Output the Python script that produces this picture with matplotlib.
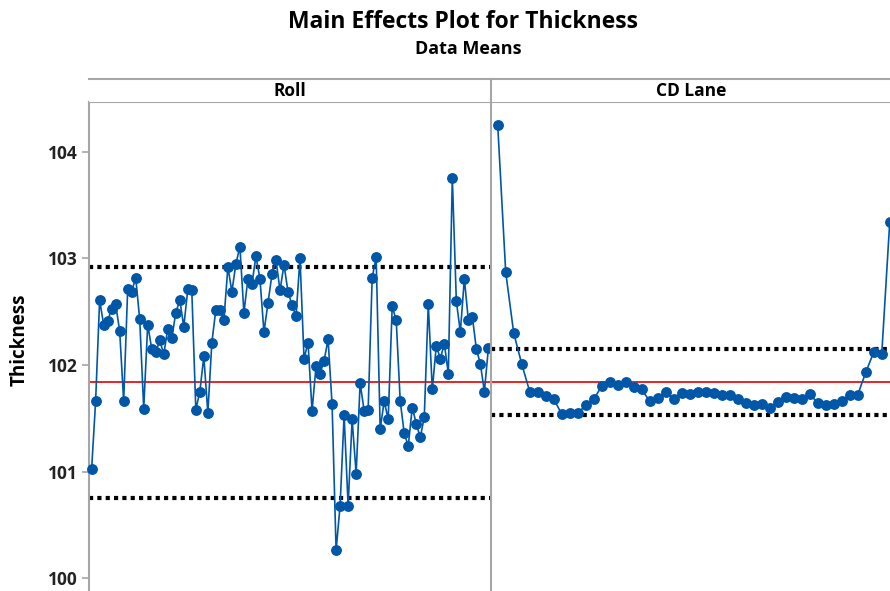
import matplotlib.pyplot as plt
import numpy as np

# data means
roll_means = [101.02, 101.66, 102.61, 102.38, 102.41, 102.53, 102.57, 102.32, 101.66, 102.71,
              102.69, 102.82, 102.43, 101.59, 102.38, 102.15, 102.12, 102.23, 102.10, 102.34,
              102.25, 102.49, 102.61, 102.36, 102.71, 102.70, 101.58, 101.75, 102.08, 101.55,
              102.21, 102.52, 102.52, 102.42, 102.92, 102.69, 102.95, 103.11, 102.49, 102.81,
              102.76, 103.02, 102.81, 102.31, 102.58, 102.85, 102.99, 102.70, 102.94, 102.69,
              102.56, 102.46, 103.00, 102.06, 102.21, 101.57, 101.99, 101.92, 102.04, 102.24,
              101.63, 100.26, 100.68, 101.53, 100.68, 101.49, 100.98, 101.83, 101.57, 101.58,
              102.82, 103.01, 101.40, 101.66, 101.49, 102.55, 102.42, 101.66, 101.36, 101.24,
              101.60, 101.45, 101.32, 101.51, 102.57, 101.77, 102.18, 102.06, 102.20, 101.92,
              103.76, 102.60, 102.31, 102.81, 102.42, 102.45, 102.15, 102.01, 101.75, 102.16]

cd_means = [104.25, 102.87, 102.30, 102.01, 101.75, 101.75, 101.71, 101.68, 101.54, 101.55,
            101.55, 101.62, 101.68, 101.80, 101.84, 101.81, 101.84, 101.79, 101.77, 101.66,
            101.69, 101.75, 101.68, 101.74, 101.73, 101.75, 101.75, 101.74, 101.72, 101.72,
            101.68, 101.64, 101.62, 101.63, 101.60, 101.65, 101.70, 101.69, 101.68, 101.73,
            101.64, 101.62, 101.63, 101.66, 101.72, 101.72, 101.93, 102.12, 102.10, 103.34]

grand_mean = 101.84
roll_limits = [100.75, 102.92]
cd_limits = [101.53, 102.15]
yticks = [100, 101, 102, 103, 104]

W, H = 890, 591
blue = '#0057a8'
gray = '#a6a6a6'
fnt = ['Open Sans', 'DejaVu Sans']

fig = plt.figure(figsize=(W / 100, H / 100), dpi=100)

def px(x0, y0, x1, y1):
    return [x0 / W, 1 - y1 / H, (x1 - x0) / W, (y1 - y0) / H]

ax1 = fig.add_axes(px(89, 101.5, 491, 591))
ax2 = fig.add_axes(px(491, 101.5, 897, 591))

panels = [(ax1, roll_means, roll_limits, (0.35, 100.65), 'Roll', (89, 491)),
          (ax2, cd_means, cd_limits, (0.16, 50.91), 'CD Lane', (491, 897))]

for ax, vals, lims, xl, name, (xa, xb) in panels:
    x = np.arange(1, len(vals) + 1)
    ax.set_xlim(*xl)
    ax.set_ylim(99.878, 104.474)
    for lv in lims:
        ax.axhline(lv, color='black', lw=3, ls=(0, (1, 1)), zorder=2)
    ax.axhline(grand_mean, color='#e00000', lw=1.2, zorder=2)
    ax.plot(x, vals, color=blue, lw=1.2, marker='o', ms=6.8, mec=blue, mfc=blue, zorder=3,
            clip_on=False)
    ax.set_xticks([])
    for s in ['right', 'bottom']:
        ax.spines[s].set_visible(False)
    for s in ['left', 'top']:
        ax.spines[s].set_color(gray)
        ax.spines[s].set_linewidth(1.5)
    # strip on top
    st = fig.add_axes(px(xa, 79, xb, 101.5))
    st.set_xticks([])
    st.set_yticks([])
    for s in st.spines.values():
        s.set_color(gray)
        s.set_linewidth(1.5)
    st.spines['bottom'].set_visible(False)
    st.spines['right'].set_visible(False)
    if name == 'Roll':
        st.spines['left'].set_visible(False)
    st.text(0.5 if name == 'Roll' else 0.5 - 3 / 406, 0.45, name, ha='center', va='center',
            fontsize=12.5, fontweight='bold', family=fnt, transform=st.transAxes)

ax1.set_yticks(yticks)
ax1.set_yticklabels([str(t) for t in yticks], fontsize=12.5, fontweight='bold', family=fnt,
                    color='#222222')
ax1.tick_params(axis='y', length=5, width=1.2, color=gray, pad=3)
ax2.set_yticks([])

fig.text(463 / W, 1 - 22 / H, 'Main Effects Plot for Thickness', ha='center', va='center',
         fontsize=16.5, fontweight='bold', family=fnt)
fig.text(468 / W, 1 - 49 / H, 'Data Means', ha='center', va='center',
         fontsize=13, fontweight='bold', family=fnt)
fig.text(20 / W, 1 - 340 / H, 'Thickness', ha='center', va='center', rotation=90,
         fontsize=13.5, fontweight='bold', family=fnt)

fig.savefig('out.png', dpi=100)
